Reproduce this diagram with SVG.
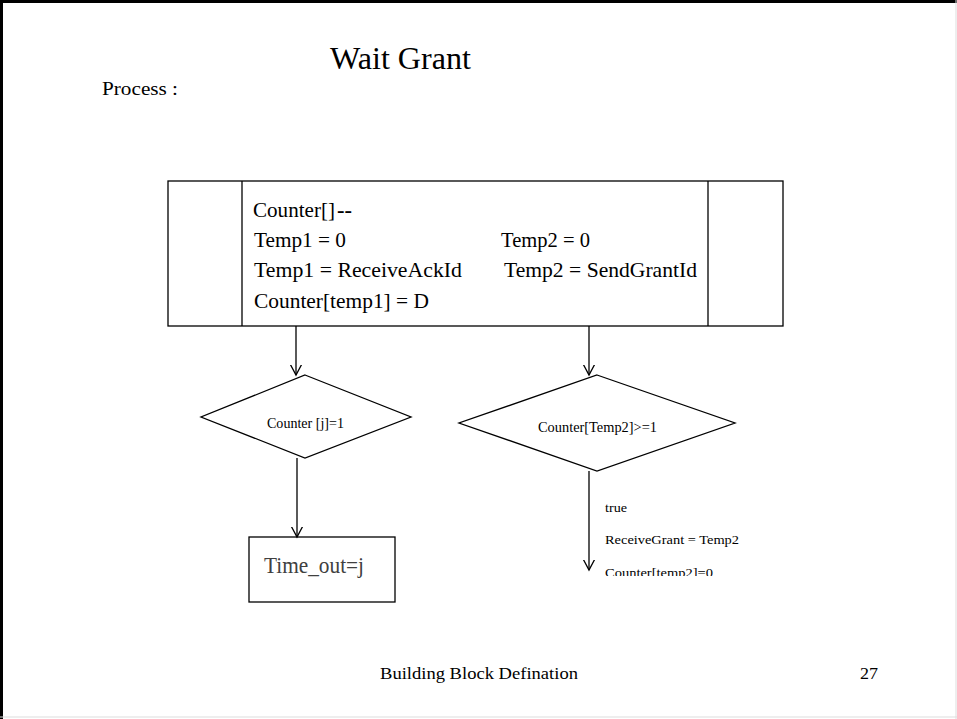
<svg xmlns="http://www.w3.org/2000/svg" width="957" height="719" viewBox="0 0 957 719">
<style>
text{font-family:"Liberation Serif","Times New Roman",serif;fill:#000}
.ln{stroke:#000;stroke-width:1.3;fill:none}
.shape{stroke:#000;stroke-width:1.3;fill:#fff}
</style>
<defs>
<marker id="arr" markerWidth="20" markerHeight="20" refX="10" refY="10" orient="auto" markerUnits="userSpaceOnUse">
<path d="M-5,2 L10,10 L-5,18" fill="none" stroke="#000" stroke-width="1.3"/>
</marker>
<clipPath id="clipb"><rect x="0" y="0" width="957" height="576"/></clipPath>
</defs>
<rect x="0" y="0" width="957" height="719" fill="#fff"/>
<g id="frame">
<line x1="0" y1="1.5" x2="957" y2="1.5" stroke="#000" stroke-width="3"/>
<line x1="1.5" y1="0" x2="1.5" y2="719" stroke="#000" stroke-width="3"/>
<line x1="956" y1="0" x2="956" y2="719" stroke="#ddd" stroke-width="1"/>
<line x1="0" y1="717" x2="957" y2="717" stroke="#ddd" stroke-width="1"/>
</g>
<g id="title">
<text x="330" y="69" font-size="31" textLength="141" lengthAdjust="spacingAndGlyphs">Wait Grant</text>
<text x="102" y="95" font-size="18" textLength="76" lengthAdjust="spacingAndGlyphs">Process :</text>
</g>
<g id="process">
<rect class="shape" x="168" y="181" width="615" height="145"/>
<line class="ln" x1="242" y1="181" x2="242" y2="326"/>
<line class="ln" x1="708" y1="181" x2="708" y2="326"/>
<text x="253" y="217" font-size="22" textLength="82" lengthAdjust="spacingAndGlyphs">Counter[]</text>
<text x="337" y="217" font-size="22" font-weight="bold" textLength="15" lengthAdjust="spacingAndGlyphs">--</text>
<text x="254" y="247" font-size="22" textLength="92" lengthAdjust="spacingAndGlyphs">Temp1 = 0</text>
<text x="501" y="247" font-size="22" textLength="89" lengthAdjust="spacingAndGlyphs">Temp2 = 0</text>
<text x="254" y="277" font-size="22" textLength="208" lengthAdjust="spacingAndGlyphs">Temp1 = ReceiveAckId</text>
<text x="504" y="277" font-size="22" textLength="193" lengthAdjust="spacingAndGlyphs">Temp2 = SendGrantId</text>
<text x="254" y="308" font-size="22" textLength="175" lengthAdjust="spacingAndGlyphs">Counter[temp1] = D</text>
</g>
<g id="decision1">
<polygon class="shape" points="305,375 411,417 305,458 201,417"/>
<text x="267" y="428" font-size="14" textLength="77" lengthAdjust="spacingAndGlyphs">Counter [j]=1</text>
</g>
<g id="decision2">
<polygon class="shape" points="597,375 735,423 597,471 459,423"/>
<text x="538" y="432" font-size="14" textLength="119" lengthAdjust="spacingAndGlyphs">Counter[Temp2]&gt;=1</text>
</g>
<g id="timeout">
<rect class="shape" x="249" y="537" width="146" height="65"/>
<text x="264" y="573" font-size="24" textLength="100" lengthAdjust="spacingAndGlyphs" style="fill:#404040">Time_out=j</text>
</g>
<g id="action">
<text x="605" y="512" font-size="12" textLength="22" lengthAdjust="spacingAndGlyphs">true</text>
<text x="605" y="544" font-size="12" textLength="134" lengthAdjust="spacingAndGlyphs">ReceiveGrant = Temp2</text>
<text x="605" y="577" font-size="12" textLength="108" lengthAdjust="spacingAndGlyphs" clip-path="url(#clipb)">Counter[temp2]=0</text>
</g>
<g id="connectors">
<line class="ln" x1="296" y1="326" x2="296" y2="375" marker-end="url(#arr)"/>
<line class="ln" x1="589" y1="326" x2="589" y2="375" marker-end="url(#arr)"/>
<line class="ln" x1="297" y1="458" x2="297" y2="537" marker-end="url(#arr)"/>
<line class="ln" x1="589" y1="471" x2="589" y2="570" marker-end="url(#arr)"/>
</g>
<g id="footer">
<text x="380" y="679" font-size="17" textLength="198" lengthAdjust="spacingAndGlyphs">Building Block Defination</text>
<text x="860" y="679" font-size="17" textLength="18" lengthAdjust="spacingAndGlyphs">27</text>
</g>
</svg>
